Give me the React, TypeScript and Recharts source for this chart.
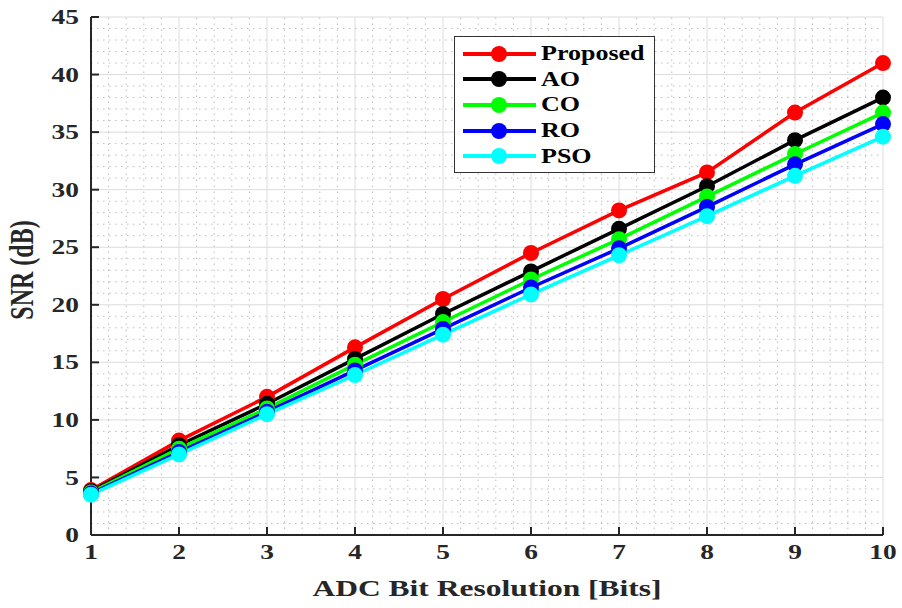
import React from 'react';
import { LineChart, Line, XAxis, YAxis, CartesianGrid, ReferenceLine, Legend, Label } from 'recharts';

const bits = [1, 2, 3, 4, 5, 6, 7, 8, 9, 10];
const proposed = [3.9, 8.2, 12.0, 16.3, 20.5, 24.5, 28.2, 31.5, 36.7, 41.0];
const ao = [3.8, 7.8, 11.4, 15.3, 19.2, 22.9, 26.6, 30.3, 34.3, 38.0];
const co = [3.7, 7.5, 11.0, 14.8, 18.5, 22.2, 25.7, 29.4, 33.1, 36.7];
const ro = [3.6, 7.2, 10.7, 14.3, 17.9, 21.5, 24.9, 28.5, 32.2, 35.7];
const pso = [3.5, 7.0, 10.5, 13.9, 17.4, 20.9, 24.3, 27.7, 31.2, 34.6];
const yTicks = [0, 5, 10, 15, 20, 25, 30, 35, 40, 45];

const series = [
  { key: 'proposed', name: 'Proposed', color: '#ff0000', values: proposed },
  { key: 'ao', name: 'AO', color: '#000000', values: ao },
  { key: 'co', name: 'CO', color: '#00ff00', values: co },
  { key: 'ro', name: 'RO', color: '#0000ff', values: ro },
  { key: 'pso', name: 'PSO', color: '#00ffff', values: pso },
];

const data = bits.map((b, i) => {
  const row: any = { bits: b };
  series.forEach((s) => (row[s.key] = s.values[i]));
  return row;
});

// minor grid: 1 dB steps on y, 0.2 bit steps on x
const minorY: number[] = [];
for (let v = 1; v < 45; v++) if (v % 5 !== 0) minorY.push(v);
const minorX: number[] = [];
for (let k = 6; k < 50; k++) if (k % 5 !== 0) minorX.push(k / 5);

const FONT = '"Liberation Serif", "Times New Roman", serif';
const AXIS = '#262626';
const TEXT = '#262626';
// the reference text is stretched sideways
const SX = 1.37;

const XTick = (props: any) => {
  const { x, y, payload } = props;
  return (
    <text
      transform={`translate(${x},${y}) scale(${SX},1)`}
      textAnchor="middle"
      dy="0.71em"
      fontFamily={FONT}
      fontWeight="bold"
      fontSize={20}
      fill={TEXT}
    >
      {payload.value}
    </text>
  );
};

const YTick = (props: any) => {
  const { x, y, payload } = props;
  return (
    <text
      transform={`translate(${x},${y}) scale(${SX},1)`}
      textAnchor="end"
      dy="0.355em"
      fontFamily={FONT}
      fontWeight="bold"
      fontSize={20}
      fill={TEXT}
    >
      {payload.value}
    </text>
  );
};

const XTitle = (props: any) => {
  const { viewBox } = props;
  const cx = viewBox.x + viewBox.width / 2;
  return (
    <text
      transform={`translate(${cx},596) scale(${SX},1)`}
      textAnchor="middle"
      fontFamily={FONT}
      fontWeight="bold"
      fontSize={23}
      fill={TEXT}
    >
      ADC Bit Resolution [Bits]
    </text>
  );
};

const YTitle = (props: any) => {
  const { viewBox } = props;
  const cy = viewBox.y + viewBox.height / 2 + 0;
  return (
    <text
      transform={`translate(33,${cy - 6}) scale(${SX},1) rotate(-90)`}
      textAnchor="middle"
      fontFamily={FONT}
      fontWeight="bold"
      fontSize={24}
      fill={TEXT}
    >
      SNR (dB)
    </text>
  );
};

const renderLegend = () => (
  <div
    style={{
      width: 201,
      height: 137,
      border: '1px solid #333',
      background: '#fff',
      boxSizing: 'border-box',
      paddingTop: 4,
    }}
  >
    {series.map((s) => (
      <div key={s.key} style={{ display: 'flex', alignItems: 'center', height: 25.6 }}>
        <svg width={80} height={20} style={{ marginLeft: 6 }}>
          <line x1={2} y1={10} x2={75} y2={10} stroke={s.color} strokeWidth={4} />
          <circle cx={38} cy={10} r={8} fill={s.color} />
        </svg>
        <span
          style={{
            fontFamily: FONT,
            fontWeight: 'bold',
            fontSize: 20,
            color: '#000',
            display: 'inline-block',
            transform: 'scaleX(1.3)',
            transformOrigin: 'left center',
          }}
        >
          {s.name}
        </span>
      </div>
    ))}
  </div>
);

export default function App() {
  return (
    <div style={{ position: 'absolute', left: 0, top: 0, background: '#fff' }}>
      <LineChart width={902} height={608} data={data} margin={{ top: 17, right: 19, bottom: 0, left: 0 }}>
        <CartesianGrid stroke="#dcdcdc" strokeWidth={1} />
        {minorY.map((v) => (
          <ReferenceLine key={'my' + v} y={v} stroke="#bdbdbd" strokeDasharray="1.5 4.5" strokeWidth={1} />
        ))}
        {minorX.map((v) => (
          <ReferenceLine key={'mx' + v} x={v} stroke="#bdbdbd" strokeDasharray="1.5 4.5" strokeWidth={1} />
        ))}
        <XAxis
          dataKey="bits"
          type="number"
          domain={[1, 10]}
          ticks={bits}
          height={73}
          axisLine={{ stroke: AXIS, strokeWidth: 2 }}
          tickLine={{ stroke: AXIS, strokeWidth: 2 }}
          tickSize={-8}
          tickMargin={18}
          tick={<XTick />}
        >
          <Label content={<XTitle />} />
        </XAxis>
        <XAxis
          xAxisId="top"
          orientation="top"
          type="number"
          domain={[1, 10]}
          ticks={bits}
          height={0}
          axisLine={{ stroke: AXIS, strokeWidth: 2 }}
          tickLine={{ stroke: AXIS, strokeWidth: 2 }}
          tickSize={-8}
          tick={{ fill: 'none', fontSize: 0 }}
        />
        <YAxis
          type="number"
          domain={[0, 45]}
          ticks={yTicks}
          width={91}
          axisLine={{ stroke: AXIS, strokeWidth: 2 }}
          tickLine={{ stroke: AXIS, strokeWidth: 2 }}
          tickSize={-8}
          tickMargin={20}
          tick={<YTick />}
        >
          <Label content={<YTitle />} />
        </YAxis>
        <YAxis
          yAxisId="right"
          orientation="right"
          type="number"
          domain={[0, 45]}
          ticks={yTicks}
          width={0}
          axisLine={{ stroke: AXIS, strokeWidth: 2 }}
          tickLine={{ stroke: AXIS, strokeWidth: 2 }}
          tickSize={-8}
          tick={{ fill: 'none', fontSize: 0 }}
        />
        {series.map((s) => (
          <Line
            key={s.key}
            dataKey={s.key}
            name={s.name}
            stroke={s.color}
            strokeWidth={3.5}
            dot={{ r: 8, fill: s.color, stroke: 'none' }}
            activeDot={false}
            isAnimationActive={false}
          />
        ))}
        <Legend
          layout="vertical"
          align="center"
          verticalAlign="middle"
          content={renderLegend}
          wrapperStyle={{ left: 454, top: 36, width: 201 }}
        />
      </LineChart>
    </div>
  );
}
